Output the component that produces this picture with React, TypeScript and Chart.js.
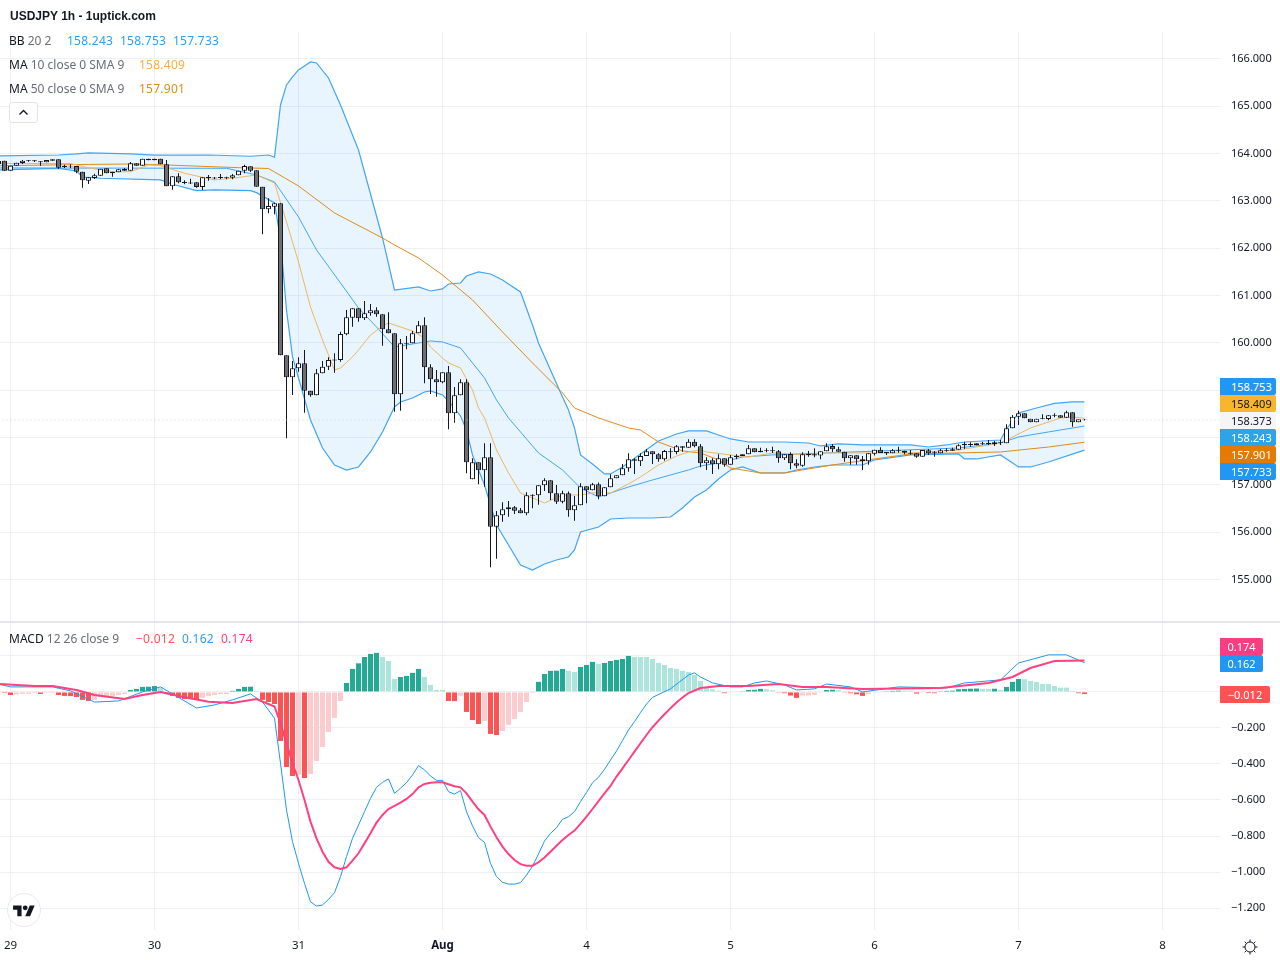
import React, { useEffect, useRef } from "react";
import { Chart, registerables } from "chart.js";

Chart.register(...registerables);

const firstBar = -2;

const opens = [
163.845,163.851,163.640,163.745,163.802,163.845,163.859,163.838,163.817,163.880,
163.880,163.739,163.724,163.739,163.618,163.428,163.485,163.534,163.690,163.618,
163.606,163.676,163.640,163.796,163.745,163.893,163.893,163.893,163.775,163.310,
163.521,163.400,163.390,163.394,163.295,163.485,163.496,163.485,163.500,163.492,
163.542,163.640,163.733,163.648,163.301,162.824,162.879,162.951,159.738,159.273,
159.464,159.569,158.990,158.893,159.358,159.498,159.630,159.639,160.182,160.533,
160.732,160.520,160.626,160.689,160.605,160.288,160.203,158.914,159.980,159.992,
160.203,160.372,159.485,159.231,159.168,159.379,158.513,158.893,159.168,157.118,
157.477,157.308,157.583,156.116,156.357,156.484,156.526,156.463,156.399,156.770,
156.780,156.991,157.097,156.822,156.645,156.822,156.463,156.568,156.970,156.886,
157.012,156.759,156.949,157.139,157.203,157.350,157.510,157.498,157.610,157.710,
157.646,157.541,157.690,157.695,157.815,157.785,157.913,157.815,157.456,157.519,
157.435,157.562,157.427,157.590,157.610,157.646,157.773,157.689,157.720,157.730,
157.710,157.562,157.653,157.456,157.406,157.630,157.646,157.620,157.710,157.820,
157.752,157.700,157.562,157.625,157.541,157.498,157.657,157.744,157.695,157.667,
157.710,157.722,157.680,157.667,157.596,157.731,157.670,157.667,157.720,157.752,
157.744,157.864,157.864,157.836,157.870,157.890,157.858,157.890,157.879,158.196,
158.441,158.513,158.399,158.322,158.390,158.392,158.460,158.470,158.420,158.534,
158.322,158.380];

const highs = [
163.845,163.851,163.745,163.809,163.866,163.866,163.866,163.840,163.866,163.880,
163.880,163.766,163.775,163.739,163.618,163.500,163.576,163.682,163.690,163.618,
163.669,163.697,163.823,163.796,163.893,163.893,163.893,163.893,163.866,163.521,
163.585,163.437,163.468,163.394,163.500,163.549,163.506,163.570,163.513,163.570,
163.640,163.766,163.733,163.648,163.301,163.056,162.960,162.951,159.738,159.618,
159.696,159.850,158.990,159.449,159.618,159.696,159.780,160.237,160.696,160.732,
160.732,160.886,160.823,160.753,160.605,160.647,160.203,160.083,160.146,160.252,
160.463,160.541,159.548,159.428,159.379,159.512,159.069,159.231,159.231,157.562,
157.477,157.879,157.879,156.448,156.632,156.659,156.554,156.510,156.843,156.800,
156.991,157.139,157.097,156.998,156.877,156.860,156.765,157.033,156.970,157.040,
157.050,156.949,157.224,157.203,157.441,157.667,157.562,157.667,157.758,157.710,
157.667,157.737,157.773,157.843,157.815,157.963,157.963,157.864,157.583,157.562,
157.646,157.562,157.632,157.646,157.646,157.843,157.773,157.785,157.773,157.806,
157.737,157.646,157.689,157.541,157.689,157.716,157.773,157.710,157.879,157.864,
157.806,157.700,157.625,157.625,157.610,157.667,157.744,157.794,157.695,157.758,
157.806,157.722,157.737,157.667,157.737,157.758,157.716,157.758,157.773,157.785,
157.857,157.913,157.900,157.879,157.913,157.949,157.927,157.949,158.280,158.477,
158.568,158.513,158.399,158.399,158.491,158.470,158.513,158.470,158.568,158.534,
158.386,158.390];

const lows = [
163.781,163.640,163.640,163.745,163.781,163.830,163.823,163.745,163.817,163.851,
163.676,163.697,163.690,163.585,163.280,163.358,163.464,163.534,163.585,163.513,
163.606,163.640,163.640,163.745,163.745,163.859,163.859,163.775,163.310,163.238,
163.373,163.352,163.360,163.280,163.232,163.428,163.458,163.464,163.458,163.458,
163.542,163.585,163.612,163.301,162.296,162.739,162.718,159.738,157.984,158.900,
159.392,158.526,158.864,158.893,159.358,159.428,159.371,159.603,160.161,160.343,
160.449,160.484,160.575,160.554,159.941,160.203,158.547,158.568,159.865,159.992,
160.203,159.147,158.921,158.864,159.147,158.175,158.314,158.893,157.245,157.118,
157.012,156.962,155.258,155.440,156.222,156.327,156.385,156.399,156.357,156.505,
156.581,156.871,156.680,156.596,156.611,156.327,156.243,156.568,156.611,156.886,
156.695,156.759,156.949,157.139,157.203,157.278,157.230,157.399,157.610,157.441,
157.490,157.511,157.562,157.646,157.700,157.785,157.794,157.371,157.314,157.230,
157.329,157.385,157.427,157.541,157.610,157.646,157.689,157.689,157.689,157.674,
157.469,157.526,157.329,157.350,157.385,157.596,157.583,157.541,157.710,157.695,
157.700,157.490,157.427,157.427,157.314,157.427,157.620,157.674,157.632,157.667,
157.680,157.646,157.638,157.575,157.596,157.632,157.596,157.667,157.700,157.722,
157.744,157.758,157.806,157.836,157.843,157.843,157.820,157.843,157.879,158.196,
158.265,158.407,158.322,158.322,158.386,158.365,158.428,158.420,158.420,158.229,
158.322,158.360];

const closes = [
163.781,163.640,163.745,163.809,163.851,163.859,163.838,163.817,163.866,163.851,
163.703,163.718,163.735,163.618,163.437,163.500,163.542,163.682,163.585,163.585,
163.669,163.640,163.796,163.745,163.893,163.859,163.859,163.775,163.310,163.521,
163.394,163.380,163.370,163.295,163.500,163.506,163.475,163.506,163.480,163.542,
163.640,163.739,163.640,163.301,162.824,162.894,162.951,159.738,159.273,159.464,
159.569,158.990,158.893,159.358,159.498,159.639,159.650,160.189,160.541,160.732,
160.520,160.626,160.689,160.605,160.288,160.203,158.914,159.992,160.000,160.203,
160.372,159.485,159.231,159.168,159.379,158.513,158.893,159.168,157.477,157.477,
157.308,157.583,156.116,156.357,156.484,156.526,156.454,156.399,156.780,156.790,
156.991,157.097,156.822,156.645,156.822,156.463,156.568,156.970,156.886,157.012,
156.759,156.949,157.139,157.203,157.350,157.541,157.541,157.610,157.710,157.646,
157.541,157.716,157.710,157.815,157.785,157.913,157.815,157.456,157.519,157.435,
157.562,157.427,157.583,157.610,157.646,157.773,157.689,157.722,157.735,157.710,
157.562,157.646,157.456,157.406,157.646,157.650,157.620,157.710,157.815,157.752,
157.700,157.562,157.625,157.541,157.498,157.667,157.744,157.674,157.667,157.731,
157.730,157.680,157.660,157.596,157.737,157.667,157.690,157.731,157.735,157.722,
157.836,157.836,157.843,157.879,157.885,157.858,157.900,157.905,158.196,158.441,
158.513,158.407,158.322,158.399,158.405,158.470,158.475,158.420,158.534,158.322,
158.386,158.373];

const macdHist = [
-0.005,-0.006,-0.017,-0.013,-0.011,-0.011,-0.007,-0.011,-0.006,-0.006,
-0.017,-0.022,-0.023,-0.028,-0.044,-0.050,-0.044,-0.028,-0.022,-0.022,
-0.017,-0.011,0.011,0.017,0.028,0.029,0.033,0.022,-0.006,-0.022,
-0.033,-0.039,-0.040,-0.044,-0.033,-0.022,-0.017,-0.011,-0.011,0.006,
0.017,0.028,0.029,0.006,-0.044,-0.056,-0.067,-0.272,-0.417,-0.467,
-0.460,-0.478,-0.456,-0.383,-0.306,-0.222,-0.144,-0.050,0.050,0.128,
0.159,0.194,0.211,0.217,0.194,0.172,0.072,0.083,0.089,0.106,
0.128,0.083,0.039,0.011,0.011,-0.050,-0.051,-0.022,-0.111,-0.156,
-0.178,-0.161,-0.233,-0.239,-0.217,-0.183,-0.150,-0.111,-0.056,-0.006,
0.056,0.100,0.117,0.118,0.128,0.117,0.111,0.139,0.150,0.167,
0.156,0.161,0.172,0.178,0.183,0.200,0.194,0.194,0.194,0.183,
0.161,0.150,0.133,0.128,0.117,0.111,0.094,0.061,0.026,0.015,
0.007,-0.007,-0.004,-0.003,0.004,0.011,0.012,0.017,0.015,0.009,
-0.004,-0.007,-0.020,-0.033,-0.020,-0.020,-0.017,-0.004,0.011,0.012,
0.011,-0.004,-0.007,-0.013,-0.022,-0.011,-0.004,-0.004,0.004,0.006,
0.007,0.007,0.007,-0.009,-0.004,-0.006,-0.007,0.004,0.006,0.007,
0.015,0.017,0.018,0.019,0.017,0.017,0.018,0.011,0.028,0.056,
0.072,0.071,0.061,0.056,0.044,0.044,0.033,0.024,0.024,0.006,
-0.007,-0.012];

const bbUpper: [number, number][] = [
[-2,163.950],[8,163.971],[11,163.993],[13,164.014],[20,163.993],[24,163.967],[33,163.971],[40,163.944],[43,163.971],[44,163.923],
[45,165.028],[46,165.451],[47,165.620],[48,165.768],[49,165.852],[50,165.937],[51,165.916],[53,165.599],[55,165.028],[57,164.394],[58,164.077],[62,162.217],
[64,161.118],[68,161.182],[70,161.097],[72,161.140],[73,161.245],[75,161.266],[76,161.414],[78,161.499],[80,161.456],[82,161.330],
[85,161.076],[87,160.379],[88,159.998],[92,158.857],[93,158.583],[94,158.202],[95,157.632],[97,157.441],[99,157.230],[100,157.230],
[102,157.378],[105,157.653],[108,157.927],[111,158.075],[113,158.139],[116,158.139],[118,158.054],[120,157.970],[123,157.906],[129,157.906],
[133,157.885],[135,157.822],[138,157.864],[142,157.843],[150,157.843],[153,157.800],[156,157.843],[159,157.906],[165,157.948],[166,158.181],
[168,158.519],[171,158.624],[174,158.720],[177,158.753],[179,158.753]];

const bbLower: [number, number][] = [
[-2,163.654],[8,163.686],[11,163.633],[12,163.506],[15,163.479],[25,163.443],[27,163.352],[31,163.217],[34,163.232],[40,163.217],
[41,163.175],[44,162.957],[45,162.175],[46,160.696],[47,159.703],[50,158.371],[52,157.779],[54,157.420],[56,157.314],[58,157.378],
[60,157.695],[62,158.118],[64,158.646],[65,158.752],[67,158.836],[69,158.963],[70,158.984],[72,158.900],[73,158.773],[75,158.456],
[76,158.160],[77,157.632],[79,156.997],[81,156.152],[83,155.729],[85,155.307],[87,155.201],[89,155.328],[91,155.412],[93,155.476],
[94,155.624],[95,156.004],[98,156.110],[100,156.279],[103,156.300],[107,156.300],[110,156.321],[112,156.511],[114,156.744],[116,156.892],
[118,157.124],[120,157.314],[122,157.378],[125,157.251],[129,157.251],[131,157.314],[134,157.378],[137,157.420],[142,157.420],[144,157.526],
[150,157.632],[158,157.653],[159,157.547],[161,157.547],[165,157.632],[168,157.378],[170,157.378],[173,157.484],[179,157.733]];

const bbBasis: [number, number][] = [
[-2,163.697],[36,163.690],[41,163.549],[44,163.401],[48,162.661],[51,161.964],[55,161.266],[58,160.738],[61,160.336],[64,159.914],
[67,159.977],[70,160.041],[72,160.020],[75,159.893],[79,159.259],[81,158.794],[83,158.413],[88,157.674],[92,157.314],[95,156.934],
[98,156.744],[103,156.955],[107,157.103],[110,157.209],[113,157.314],[115,157.399],[118,157.462],[122,157.589],[127,157.632],[136,157.674],
[158,157.779],[165,157.885],[168,158.012],[173,158.118],[179,158.243]];

const ma10: [number, number][] = [
[-2,163.792],[10,163.792],[13,163.697],[17,163.618],[20,163.618],[23,163.760],[25,163.745],[29,163.585],[34,163.443],[37,163.479],
[41,163.549],[44,163.380],[46,162.555],[48,161.710],[50,160.759],[52,160.062],[54,159.428],[55,159.470],[57,159.703],[58,159.850],
[60,160.167],[62,160.358],[63,160.421],[65,160.336],[67,160.252],[69,160.104],[70,159.914],[72,159.681],[73,159.576],[75,159.470],
[77,159.005],[78,158.625],[79,158.413],[81,157.737],[83,157.251],[85,156.828],[87,156.723],[89,156.617],[92,156.786],[95,156.786],
[98,156.849],[100,156.828],[103,157.019],[105,157.167],[108,157.420],[111,157.610],[113,157.695],[115,157.737],[116,157.695],[120,157.632],
[123,157.589],[127,157.674],[133,157.632],[136,157.674],[150,157.674],[158,157.737],[165,157.885],[166,157.948],[170,158.202],[175,158.413],
[177,158.434],[179,158.409]];

const ma50: [number, number][] = [
[-2,163.745],[13,163.771],[20,163.781],[26,163.760],[38,163.703],[43,163.686],[44,163.612],[48,163.316],[54,162.746],[62,162.217],
[64,162.069],[68,161.795],[72,161.435],[77,160.907],[82,160.231],[87,159.576],[92,158.942],[94,158.625],[98,158.413],[103,158.202],
[105,158.160],[108,157.906],[112,157.716],[115,157.674],[118,157.526],[120,157.357],[125,157.251],[129,157.251],[133,157.336],[137,157.420],
[144,157.547],[150,157.653],[165,157.695],[173,157.800],[179,157.901]];

const macdLine: [number, number][] = [
[-2,0.044],[0,0.028],[7,0.028],[10,0.006],[14,-0.056],[18,-0.050],[22,0],[25,0.028],[31,-0.089],[34,-0.072],
[37,-0.044],[40,-0.011],[42,-0.056],[44,-0.146],[45,-0.396],[46,-0.656],[47,-0.831],[48,-0.952],[49,-1.063],[50,-1.165],
[51,-1.189],[52,-1.183],[53,-1.152],[54,-1.115],[55,-1.026],[56,-0.915],[57,-0.813],[58,-0.739],[59,-0.665],[60,-0.591],
[61,-0.530],[62,-0.502],[63,-0.483],[64,-0.563],[65,-0.535],[66,-0.504],[67,-0.461],[68,-0.409],[69,-0.433],[70,-0.467],
[71,-0.491],[72,-0.491],[73,-0.554],[74,-0.567],[75,-0.548],[76,-0.665],[77,-0.744],[78,-0.809],[79,-0.835],[80,-0.952],
[81,-1.026],[82,-1.057],[83,-1.067],[84,-1.067],[85,-1.059],[86,-1.017],[87,-0.967],[88,-0.900],[89,-0.828],[90,-0.785],
[91,-0.754],[92,-0.707],[93,-0.693],[94,-0.665],[95,-0.609],[96,-0.559],[97,-0.504],[98,-0.474],[99,-0.430],[100,-0.378],
[101,-0.328],[102,-0.270],[103,-0.211],[104,-0.165],[105,-0.115],[106,-0.067],[107,-0.030],[110,0.017],[113,0.094],[114,0.106],
[115,0.083],[117,0.050],[120,0.028],[122,0.028],[124,0.050],[126,0.061],[129,0.039],[131,0.011],[134,0.017],[136,0.044],
[140,0.028],[142,0],[148,0.028],[156,0.022],[159,0.050],[165,0.067],[168,0.161],[173,0.206],[176,0.206],[179,0.162]];

const macdSignal: [number, number][] = [
[-2,0.044],[4,0.033],[7,0.033],[11,0.011],[14,-0.017],[19,-0.039],[22,-0.017],[25,0],[28,-0.022],[33,-0.054],
[37,-0.061],[41,-0.039],[44,-0.081],[45,-0.174],[46,-0.285],[47,-0.396],[48,-0.489],[49,-0.600],[50,-0.720],[51,-0.813],
[52,-0.887],[53,-0.943],[54,-0.974],[55,-0.983],[56,-0.974],[57,-0.937],[58,-0.896],[59,-0.841],[60,-0.785],[61,-0.726],
[62,-0.683],[63,-0.650],[64,-0.633],[65,-0.615],[66,-0.594],[67,-0.567],[68,-0.530],[69,-0.511],[70,-0.504],[71,-0.502],
[72,-0.502],[73,-0.513],[74,-0.524],[75,-0.530],[76,-0.563],[77,-0.609],[78,-0.652],[79,-0.683],[80,-0.748],[81,-0.807],
[82,-0.859],[83,-0.900],[84,-0.933],[85,-0.956],[86,-0.965],[87,-0.965],[88,-0.946],[89,-0.919],[90,-0.887],[91,-0.854],
[92,-0.822],[93,-0.794],[94,-0.770],[95,-0.733],[96,-0.693],[97,-0.650],[98,-0.606],[99,-0.563],[100,-0.522],[101,-0.470],
[102,-0.424],[103,-0.378],[104,-0.331],[105,-0.285],[106,-0.239],[107,-0.196],[108,-0.159],[109,-0.124],[110,-0.090],[111,-0.059],
[112,-0.031],[113,-0.006],[115,0.022],[118,0.033],[123,0.033],[128,0.044],[132,0.028],[136,0.028],[142,0.017],[155,0.022],
[163,0.050],[167,0.083],[170,0.133],[174,0.172],[179,0.174]];

const lastPriceLine: [number, number][] = [[-2,158.373],[202,158.373]];

const priceTicks = [155,156,157,158,159,160,161,162,163,164,165,166];
const macdTicks = [0.2,0,-0.2,-0.4,-0.6,-0.8,-1.0,-1.2];
const dayTickBars = [0,24,48,72,96,120,144,168,192];
const dayTickLabels = ["29","30","31","Aug","4","5","6","7","8"];

const priceBadges = [
  { text: "158.753", top: 378, bg: "#2196f3", fg: "#ffffff" },
  { text: "158.409", top: 395, bg: "#f9b52c", fg: "#131722" },
  { text: "158.373", top: 412, bg: "#f5f5f6", fg: "#131722" },
  { text: "158.243", top: 429, bg: "#2fa3e8", fg: "#ffffff" },
  { text: "157.901", top: 446, bg: "#e37b03", fg: "#ffffff" },
  { text: "157.733", top: 463, bg: "#2196f3", fg: "#ffffff" },
];
const macdBadges = [
  { text: "0.174", top: 638, bg: "#f83e7f", fg: "#ffffff", w: 43 },
  { text: "0.162", top: 655, bg: "#2196f3", fg: "#ffffff", w: 43 },
  { text: "−0.012", top: 686, bg: "#ff5252", fg: "#ffffff", w: 50 },
];

const UI_FONT = "'Noto Sans', sans-serif";
const AXIS_FONT = "'Noto Sans', sans-serif";
const AXIS_SIZE = 11;
const GRID = "#eef0f5";
const INK = "#131722";
const MUTED = "#6a6d78";

const toPoints = (pairs: [number, number][]) => pairs.map(([x, y]) => ({ x, y }));

function histColor(i: number) {
  const v = macdHist[i];
  const prev = i > 0 ? macdHist[i - 1] : v;
  if (v >= 0) return v > prev ? "#22ab94" : "#ace5dc";
  return v < prev ? "#ff5252" : "#fccbcd";
}

function lineSet(label: string, pairs: [number, number][], color: string, width: number, axis: string, extra: object = {}) {
  return {
    type: "line" as const,
    label,
    data: toPoints(pairs),
    borderColor: color,
    borderWidth: width,
    pointRadius: 0,
    tension: 0,
    yAxisID: axis,
    fill: false,
    ...extra,
  };
}

const textRow = (top: number): React.CSSProperties => ({
  position: "absolute",
  top,
  left: 9,
  height: 16,
  lineHeight: "16px",
  fontFamily: UI_FONT,
  fontSize: 12,
  whiteSpace: "pre",
});

const valueText: React.CSSProperties = { letterSpacing: "0.25px" };

export default function App() {
  const ref = useRef<HTMLCanvasElement | null>(null);

  useEffect(() => {
    const canvas = ref.current;
    if (!canvas) return;
    const barX = opens.map((_, i) => i + firstBar);
    const chart = new Chart(canvas, {
      type: "bar",
      data: {
        datasets: [
          {
            label: "Candles",
            data: barX.map((x, i) => ({ x, y: [opens[i], closes[i]] })),
            backgroundColor: barX.map((_, i) => (closes[i] < opens[i] ? "#6f6f6f" : "#ffffff")),
            borderColor: INK,
            borderWidth: 1,
            borderSkipped: false,
            inflateAmount: 0,
            barThickness: 5,
            grouped: false,
            yAxisID: "y",
            order: 1,
          },
          {
            label: "Wicks",
            data: barX.map((x, i) => ({ x, y: [lows[i], highs[i]] })),
            backgroundColor: INK,
            borderWidth: 0,
            inflateAmount: 0,
            barThickness: 1,
            grouped: false,
            yAxisID: "y",
            order: 2,
          },
          lineSet("Last", lastPriceLine, "rgba(205,208,216,0.9)", 1, "y", { borderDash: [1, 3], order: 0 }),
          lineSet("MA 10", ma10, "#eeb664", 1, "y", { order: 3 }),
          lineSet("MA 50", ma50, "#e08a1e", 1, "y", { order: 3 }),
          lineSet("BB basis", bbBasis, "#42a5f5", 1, "y", { order: 4 }),
          lineSet("BB upper", bbUpper, "#42a5f5", 1.2, "y", {
            order: 4,
            fill: "+1",
            backgroundColor: "rgba(33,150,243,0.1)",
          }),
          lineSet("BB lower", bbLower, "#42a5f5", 1.2, "y", { order: 4 }),
          lineSet("Signal", macdSignal, "#ff4081", 2, "y2", { order: 5 }),
          lineSet("MACD", macdLine, "#2196f3", 1, "y2", { order: 6 }),
          {
            label: "Histogram",
            data: barX.map((x, i) => ({ x, y: macdHist[i] })),
            backgroundColor: barX.map((_, i) => histColor(i)),
            borderWidth: 0,
            inflateAmount: 0,
            barThickness: 5,
            grouped: false,
            yAxisID: "y2",
            order: 7,
          },
        ] as any,
      },
      options: {
        responsive: false,
        animation: false,
        devicePixelRatio: 1,
        events: [],
        layout: { padding: { top: 32, left: 0, right: 0, bottom: 0 } },
        plugins: { legend: { display: false }, tooltip: { enabled: false }, title: { display: false } },
        scales: {
          x: {
            type: "linear",
            min: -1.75,
            max: 201.583,
            offset: false,
            afterFit: (s: any) => { s.height = 30; s.paddingLeft = 0; s.paddingRight = 0; },
            afterBuildTicks: (s: any) => { s.ticks = dayTickBars.map((value) => ({ value })); },
            grid: { color: GRID, offset: false, drawTicks: false },
            border: { display: false },
            ticks: {
              autoSkip: false,
              maxRotation: 0,
              padding: 9,
              color: INK,
              font: (ctx: any) => ({
                family: AXIS_FONT,
                size: 11.5,
                weight: ctx.tick && ctx.tick.value === 72 ? "bold" : "normal",
              }),
              callback: (v: any) => dayTickLabels[dayTickBars.indexOf(Number(v))],
            },
          },
          y: {
            type: "linear",
            position: "right",
            stack: "panes",
            stackWeight: 589,
            min: 154.123,
            max: 166.57,
            afterFit: (s: any) => { s.width = 60; s.paddingTop = 0; s.paddingBottom = 0; },
            afterBuildTicks: (s: any) => { s.ticks = priceTicks.map((value) => ({ value })); },
            grid: { color: GRID, drawTicks: false },
            border: { display: false },
            ticks: {
              padding: 11,
              color: INK,
              font: { family: AXIS_FONT, size: AXIS_SIZE },
              callback: (v: any) => Number(v).toFixed(3),
            },
          },
          y2: {
            type: "linear",
            position: "right",
            stack: "panes",
            stackWeight: 309,
            min: -1.322,
            max: 0.394,
            afterFit: (s: any) => { s.width = 60; s.paddingTop = 0; s.paddingBottom = 0; },
            afterBuildTicks: (s: any) => { s.ticks = macdTicks.map((value) => ({ value })); },
            grid: { color: GRID, drawTicks: false },
            border: { display: false },
            ticks: {
              padding: 11,
              color: INK,
              font: { family: AXIS_FONT, size: AXIS_SIZE },
              callback: (v: any) => (Number(v) < 0 ? "−" : "") + Math.abs(Number(v)).toFixed(3),
            },
          },
        },
      } as any,
    });
    return () => chart.destroy();
  }, []);

  return (
    <div style={{ position: "absolute", left: 0, top: 0, width: 1280, height: 960, background: "#fff", overflow: "hidden" }}>
      <canvas ref={ref} width={1280} height={960} style={{ display: "block", position: "absolute", left: 0, top: 0 }} />

      <div style={{ position: "absolute", left: 0, top: 621, width: 1280, height: 2, background: "#e4e6ec" }} />

      <div style={{ position: "absolute", left: 10, top: 8, height: 16, lineHeight: "16px", fontFamily: "'Liberation Sans', Arial, sans-serif", fontWeight: 700, fontSize: 12, color: INK, whiteSpace: "pre" }}>
        USDJPY 1h - 1uptick.com
      </div>

      <div style={textRow(33)}>
        <span style={{ color: INK }}>BB</span>
        <span style={{ color: MUTED }}> 20 2</span>
      </div>
      <div style={{ ...textRow(33), ...valueText, left: 67, color: "#2f9ef0" }}>158.243</div>
      <div style={{ ...textRow(33), ...valueText, left: 120, color: "#2f9ef0" }}>158.753</div>
      <div style={{ ...textRow(33), ...valueText, left: 173, color: "#2f9ef0" }}>157.733</div>

      <div style={textRow(57)}>
        <span style={{ color: INK }}>MA</span>
        <span style={{ color: MUTED }}> 10 close 0 SMA 9</span>
      </div>
      <div style={{ ...textRow(57), ...valueText, left: 139, color: "#f5b041" }}>158.409</div>

      <div style={textRow(81)}>
        <span style={{ color: INK }}>MA</span>
        <span style={{ color: MUTED }}> 50 close 0 SMA 9</span>
      </div>
      <div style={{ ...textRow(81), ...valueText, left: 139, color: "#e08a1e" }}>157.901</div>

      <div style={{ position: "absolute", left: 9, top: 102, width: 27, height: 19, border: "1px solid #e0e3eb", borderRadius: 3, background: "#fff" }}>
        <svg width="27" height="19" style={{ display: "block" }}>
          <path d="M9.5 11.5 L13.5 7.5 L17.5 11.5" fill="none" stroke={INK} strokeWidth="1.4" />
        </svg>
      </div>

      <div style={{ ...textRow(631) }}>
        <span style={{ color: INK }}>MACD</span>
        <span style={{ color: MUTED }}> 12 26 close 9</span>
      </div>
      <div style={{ ...textRow(631), ...valueText, left: 136, color: "#ff5252" }}>−0.012</div>
      <div style={{ ...textRow(631), ...valueText, left: 182, color: "#2f9ef0" }}>0.162</div>
      <div style={{ ...textRow(631), ...valueText, left: 221, color: "#ff4081" }}>0.174</div>

      {priceBadges.map((b) => (
        <div key={b.text} style={{ position: "absolute", left: 1220, top: b.top, width: 45, paddingLeft: 11, height: 17, lineHeight: "17px", background: b.bg, color: b.fg, fontFamily: AXIS_FONT, fontSize: AXIS_SIZE, borderRadius: "0 2px 2px 0" }}>
          {b.text}
        </div>
      ))}
      {macdBadges.map((b) => (
        <div key={b.text} style={{ position: "absolute", left: 1220, top: b.top, width: b.w, height: 17, lineHeight: "17px", textAlign: "center", background: b.bg, color: b.fg, fontFamily: AXIS_FONT, fontSize: AXIS_SIZE, borderRadius: "0 2px 2px 0" }}>
          {b.text}
        </div>
      ))}

      <div style={{ position: "absolute", left: 7, top: 893, width: 32, height: 32, borderRadius: "50%", border: "1px solid #e8e9ee", background: "#fff" }} />
      <svg width="22" height="17" viewBox="0 0 36 28" style={{ position: "absolute", left: 13, top: 902.5 }}>
        <path d="M14 22H7V11H0V4h14v18zM28 22h-8l7.5-18h8L28 22z" fill={INK} />
        <circle cx="20" cy="8" r="4" fill={INK} />
      </svg>

      <svg width="18" height="18" viewBox="0 0 18 18" style={{ position: "absolute", left: 1241, top: 938 }}>
        <circle cx="9" cy="9" r="5" fill="none" stroke={INK} strokeWidth="1" />
        <path d="M9 1.5V4M9 14v2.5M1.5 9H4M14 9h2.5M3.7 3.7l1.8 1.8M12.5 12.5l1.8 1.8M3.7 14.3l1.8-1.8M12.5 5.5l1.8-1.8" stroke={INK} strokeWidth="1" fill="none" />
      </svg>
    </div>
  );
}
